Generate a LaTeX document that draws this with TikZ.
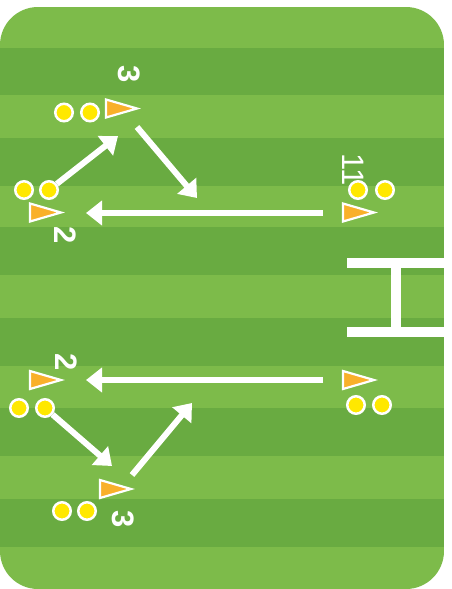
\documentclass[tikz,border=0pt]{standalone}
\usepackage{fontspec}
\setmainfont{Liberation Sans}
\usetikzlibrary{arrows.meta}
\definecolor{fieldlight}{RGB}{125,187,74}
\definecolor{fielddark}{RGB}{105,171,65}
\definecolor{coneorange}{RGB}{249,176,42}
\definecolor{dotyellow}{RGB}{255,232,0}
\tikzset{
  dotnode/.style={circle, fill=dotyellow, draw=white, line width=2.5pt, minimum size=17.5pt, inner sep=0pt},
  cone/.pic={\filldraw[fill=coneorange, draw=white, line width=2.2pt, line join=miter] (-17,-9) -- (14,0) -- (-17,9) -- cycle;},
  runarrow/.style={draw=white, line width=6pt, -{Triangle[width=24pt,length=16pt]}},
  numlabel/.style={text=white, font=\fontsize{31}{31}\selectfont\bfseries, rotate=-90, inner sep=0pt},
  thinlabel/.style={text=white, font=\fontsize{31}{31}\selectfont, rotate=-90, inner sep=0pt},
  goalbar/.style={fill=white, draw=none}
}
\begin{document}
\begin{tikzpicture}[x=1pt,y=-1pt]
\useasboundingbox (0,0) rectangle (451,589);
% field
\begin{scope}
  \clip[rounded corners=38pt] (0,7) rectangle (444,589);
  \fill[fieldlight] (0,7) rectangle (444,589);
  \foreach \a/\b in {47.7/95, 137.7/186, 226.7/275, 317.7/366, 407.7/456, 499/546.7}
    \fill[fielddark] (0,\a) rectangle (444,\b);
\end{scope}
% goal
\fill[goalbar] (347,258) rectangle (444,268);
\fill[goalbar] (347,327) rectangle (444,337);
\fill[goalbar] (391,267) rectangle (401,328);

% labels
\node[numlabel] (l3a) at (129,74) {3};
\node[numlabel] (l2a) at (65,235) {2};
\node[thinlabel] (l11) at (353,170) {11};
\node[numlabel] (l2b) at (66,362) {2};
\node[numlabel] (l3b) at (123,519) {3};

% cones
\pic (c3a) at (123,108.5) {cone};
\pic (c2a) at (47,212.5) {cone};
\pic (c1a) at (360,212.5) {cone};
\pic (c2b) at (47,380) {cone};
\pic (c3b) at (117,489) {cone};
\pic (c4b) at (360,380) {cone};

% dots
\node[dotnode] (d3a1) at (64,112.5) {};
\node[dotnode] (d3a2) at (90,112.5) {};
\node[dotnode] (d2a1) at (24,190) {};
\node[dotnode] (d2a2) at (49,190) {};
\node[dotnode] (d1a1) at (358,190) {};
\node[dotnode] (d1a2) at (385,190) {};
\node[dotnode] (d2b1) at (19,408) {};
\node[dotnode] (d2b2) at (45,408) {};
\node[dotnode] (d3b1) at (62,511) {};
\node[dotnode] (d3b2) at (87,511) {};
\node[dotnode] (d4b1) at (356,405) {};
\node[dotnode] (d4b2) at (382,405) {};

% arrow end points
\coordinate (a1e) at (118,136);
\coordinate (a2s) at (137,127);
\coordinate (a2e) at (197,198);
\coordinate (a3s) at (323,213);
\coordinate (a3e) at (86,213);
\coordinate (b1e) at (112,466);
\coordinate (b2s) at (132,475);
\coordinate (b2e) at (192,403);
\coordinate (b3s) at (323,380);
\coordinate (b3e) at (86,380);

\draw[runarrow] (d2a2) -- (a1e);
\draw[runarrow] (a2s) -- (a2e);
\draw[runarrow] (a3s) -- (a3e);
\draw[runarrow] (d2b2) -- (b1e);
\draw[runarrow] (b2s) -- (b2e);
\draw[runarrow] (b3s) -- (b3e);
\end{tikzpicture}
\end{document}
